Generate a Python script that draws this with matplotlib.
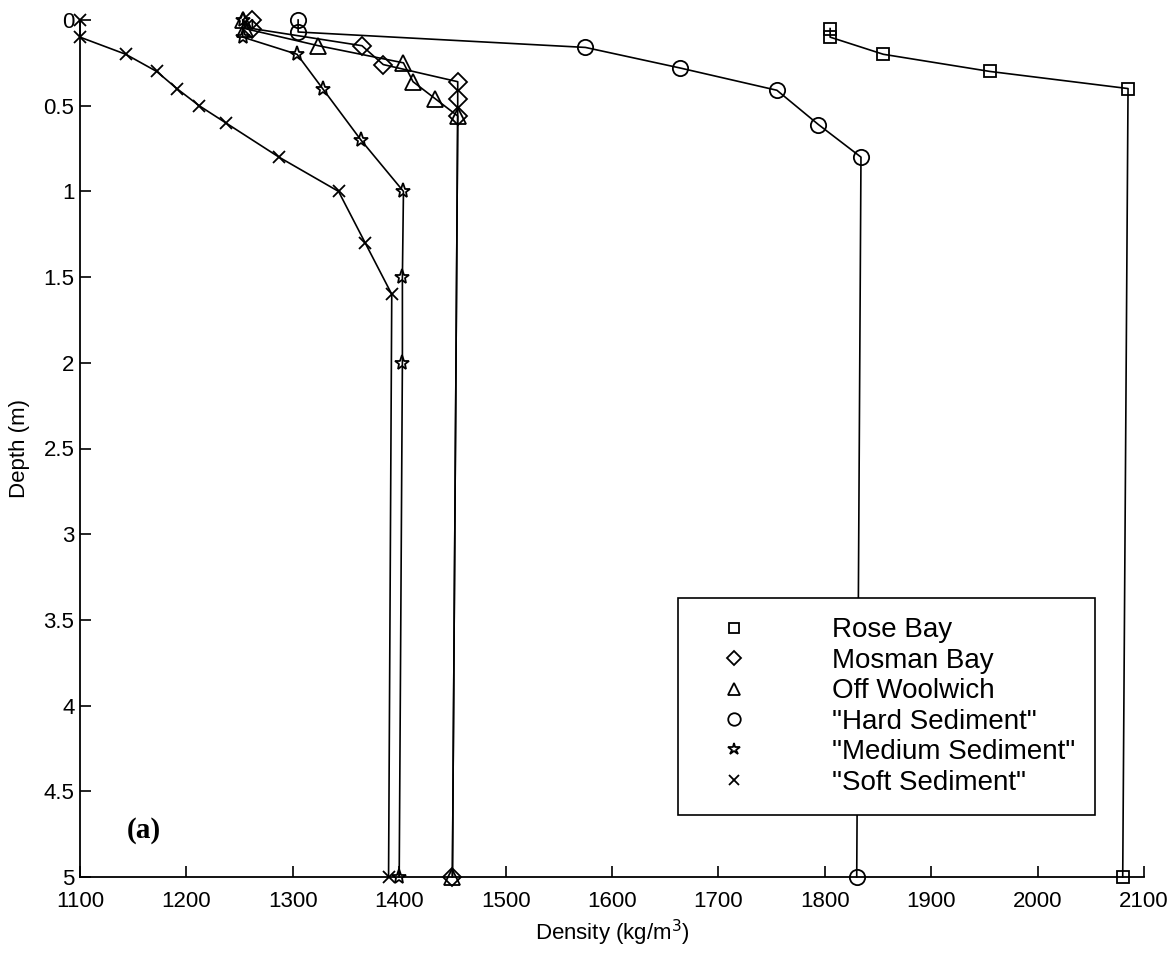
import matplotlib
matplotlib.use("Agg")
import matplotlib.pyplot as plt
from matplotlib.lines import Line2D

plt.rcParams['font.family'] = ['Liberation Sans', 'DejaVu Sans']

# Density (kg/m^3) against depth (m)
rose_dens = [1805, 1805, 1855, 1955, 2085, 2080]
rose_depth = [0.05, 0.1, 0.2, 0.3, 0.4, 5.0]

mosman_dens = [1262, 1262, 1365, 1385, 1455, 1455, 1455, 1450]
mosman_depth = [0.0, 0.05, 0.15, 0.26, 0.36, 0.46, 0.56, 5.0]

woolwich_dens = [1253, 1255, 1324, 1404, 1413, 1434, 1455, 1450]
woolwich_depth = [0.0, 0.05, 0.15, 0.25, 0.36, 0.46, 0.56, 5.0]

hard_dens = [1305, 1305, 1575, 1664, 1755, 1794, 1834, 1830]
hard_depth = [0.0, 0.07, 0.16, 0.28, 0.41, 0.61, 0.8, 5.0]

medium_dens = [1253, 1253, 1304, 1328, 1364, 1404, 1403, 1403, 1400]
medium_depth = [0.0, 0.1, 0.2, 0.4, 0.7, 1.0, 1.5, 2.0, 5.0]

soft_dens = [1100, 1100, 1143, 1172, 1191, 1212, 1237, 1287, 1343, 1368, 1393, 1390]
soft_depth = [0.0, 0.1, 0.2, 0.3, 0.4, 0.5, 0.6, 0.8, 1.0, 1.3, 1.6, 5.0]

labels = ['Rose Bay', 'Mosman Bay', 'Off Woolwich', '"Hard Sediment"',
          '"Medium Sediment"', '"Soft Sediment"']
markers = ['s', 'D', '^', 'o', '*', 'x']
msizes = [9, 9, 11, 11, 11, 9]
legend_msizes = [7, 7, 9, 9, 9, 7]

series = [(rose_dens, rose_depth), (mosman_dens, mosman_depth),
          (woolwich_dens, woolwich_depth), (hard_dens, hard_depth),
          (medium_dens, medium_depth), (soft_dens, soft_depth)]

fig = plt.figure(figsize=(11.75, 9.57), dpi=100)
ax = fig.add_axes([80 / 1175, 1 - 877 / 957, 1064 / 1175, 857 / 957])

for (d, z), m, ms in zip(series, markers, msizes):
    ax.plot(d, z, color='black', linewidth=1.2, marker=m, markersize=ms,
            markerfacecolor='none', markeredgecolor='black',
            markeredgewidth=1.3, clip_on=False)

ax.set_xlim(1100, 2100)
ax.set_ylim(5, 0)
ax.set_xticks(range(1100, 2101, 100))
ax.set_yticks([i * 0.5 for i in range(11)])
ax.set_yticklabels(['0', '0.5', '1', '1.5', '2', '2.5', '3', '3.5', '4', '4.5', '5'])
ax.tick_params(direction='in', length=8, width=1.2, labelsize=16, pad=4)
ax.tick_params(axis='x', pad=10)
ax.spines['top'].set_visible(False)
ax.spines['right'].set_visible(False)
ax.spines['left'].set_linewidth(1.3)
ax.spines['bottom'].set_linewidth(1.3)

ax.set_xlabel('Density (kg/m$^3$)', fontsize=16, labelpad=4)
ax.set_ylabel('Depth (m)', fontsize=16, labelpad=10)

ax.text(1144, 4.73, '(a)', fontsize=21, fontweight='bold',
        family='Liberation Serif', va='center', ha='left')

# legend: markers only, boxed, opaque
handles = [Line2D([], [], linestyle='none', marker=m, markersize=s,
                  markerfacecolor='none', markeredgecolor='black',
                  markeredgewidth=1.3) for m, s in zip(markers, legend_msizes)]
leg = ax.legend(handles, labels, loc='lower left',
                bbox_to_anchor=((678 - 80) / 1064, 1 - (815 - 20) / 857),
                fontsize=20, frameon=True, fancybox=False, shadow=False,
                framealpha=1, borderpad=0.7, handlelength=2.66,
                handletextpad=2.2, labelspacing=0.16, borderaxespad=0)
leg.get_frame().set_edgecolor('black')
leg.get_frame().set_linewidth(1.2)

fig.savefig('out.png', dpi=100)
